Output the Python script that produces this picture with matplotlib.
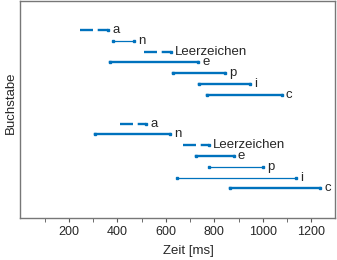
import numpy as np
import matplotlib
matplotlib.use('Agg')
import matplotlib.pyplot as plt

# letters, top to bottom within each group
letters = ['a', 'n', 'Leerzeichen', 'e', 'p', 'i', 'c']

# first word (upper group): start / end times in ms
start_top = [245, 383, 509, 369, 630, 735, 769]
end_top = [362, 468, 622, 733, 846, 946, 1078]
thin_top = [False, True, False, False, False, False, False]

# second word (lower group)
start_bot = [410, 307, 670, 725, 780, 647, 864]
end_bot = [520, 615, 777, 880, 1002, 1135, 1238]
thin_bot = [False, False, False, False, True, True, False]

dashed = [True, False, True, False, False, False, False]

plt.rcParams['font.family'] = ['Liberation Sans', 'DejaVu Sans']
plt.rcParams['font.size'] = 9

blue = '#0072BD'
fig = plt.figure(figsize=(3.37, 2.60), dpi=100)
ax = fig.add_axes([0.0608, 0.1615, 0.9347, 0.8345])

n = len(letters)
rows_bot = np.arange(n)[::-1].astype(float)
rows_top = rows_bot + 8.67


def draw_group(starts, ends, thin, rows):
    for i in range(n):
        lw = 0.9 if thin[i] else 1.7
        if dashed[i]:
            ax.plot([starts[i], ends[i]], [rows[i], rows[i]], color=blue, lw=lw,
                    ls=(0, (5.5, 2)), marker='s', ms=1.8, markevery=[1])
        else:
            ax.plot([starts[i], ends[i]], [rows[i], rows[i]], color=blue, lw=lw,
                    marker='s', ms=1.8)
        ax.annotate(letters[i], (ends[i], rows[i]), xytext=(3, 0),
                    textcoords='offset points', va='center', ha='left',
                    color='#262626', fontsize=9.5)


draw_group(start_top, end_top, thin_top, rows_top)
draw_group(start_bot, end_bot, thin_bot, rows_bot)

ax.set_xlim(0, 1300)
ax.set_ylim(-2.75, 17.36)
ax.set_xticks(np.arange(200, 1300, 200))
ax.set_xticks(np.arange(100, 1300, 200), minor=True)
ax.tick_params(axis='x', which='both', direction='out', length=3,
               color='#555555', labelcolor='#262626', pad=3)
ax.set_yticks([])
for s in ax.spines.values():
    s.set_color('#777777')
    s.set_linewidth(1.0)

ax.set_xlabel('Zeit [ms]', color='#262626', fontsize=9.5)
ax.xaxis.set_label_coords(0.532, -0.125)
ax.set_ylabel('Buchstabe', color='#262626', fontsize=9.5)
ax.yaxis.set_label_coords(-0.012, 0.53)

fig.savefig('out.png', dpi=100)
